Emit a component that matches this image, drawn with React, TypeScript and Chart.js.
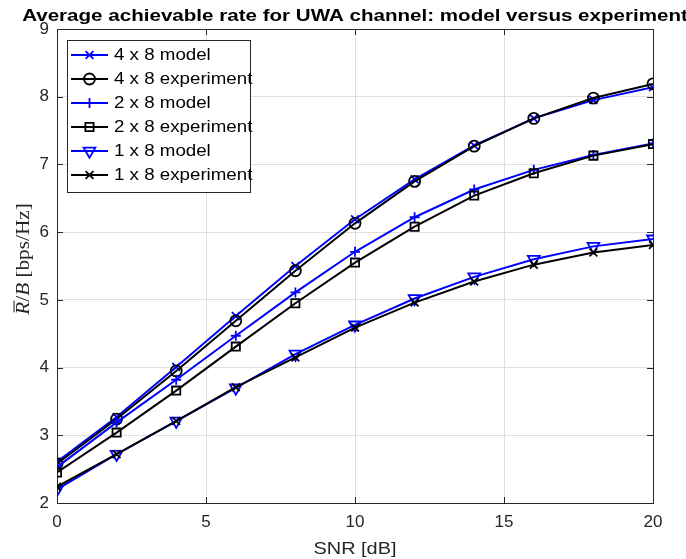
import React, { useEffect, useRef } from "react";
import { Chart, registerables } from "chart.js";

Chart.register(...registerables);

// ---- data ----
const snr = [0, 2, 4, 6, 8, 10, 12, 14, 16, 18, 20];
const model4x8 = [2.61, 3.27, 4.01, 4.76, 5.5, 6.19, 6.78, 7.28, 7.68, 7.95, 8.14];
const exp4x8 = [2.58, 3.24, 3.95, 4.69, 5.43, 6.13, 6.75, 7.27, 7.68, 7.98, 8.19];
const model2x8 = [2.53, 3.19, 3.82, 4.47, 5.11, 5.71, 6.22, 6.63, 6.92, 7.14, 7.31];
const exp2x8 = [2.45, 3.04, 3.66, 4.31, 4.95, 5.55, 6.08, 6.54, 6.87, 7.13, 7.3];
const model1x8 = [2.2, 2.72, 3.21, 3.7, 4.2, 4.63, 5.02, 5.34, 5.6, 5.79, 5.9];
const exp1x8 = [2.24, 2.72, 3.21, 3.71, 4.15, 4.59, 4.96, 5.27, 5.52, 5.7, 5.81];

const seriesLabels = [
  "4 x 8 model",
  "4 x 8 experiment",
  "2 x 8 model",
  "2 x 8 experiment",
  "1 x 8 model",
  "1 x 8 experiment",
];
const xTickValues = [0, 5, 10, 15, 20];
const yTickValues = [2, 3, 4, 5, 6, 7, 8, 9];

const TITLE = "Average achievable rate for UWA channel: model versus experiment";
const X_LABEL = "SNR [dB]";

const BLUE = "#0000ff";
const BLACK = "#000000";
const AXIS = "#262626";

type Marker = { style: string; radius: number; rotation: number };

const seriesValues = [model4x8, exp4x8, model2x8, exp2x8, model1x8, exp1x8];
const seriesColors = [BLUE, BLACK, BLUE, BLACK, BLUE, BLACK];
const seriesMarkers: Marker[] = [
  { style: "crossRot", radius: 5.5, rotation: 0 },
  { style: "circle", radius: 5.5, rotation: 0 },
  { style: "cross", radius: 5, rotation: 0 },
  { style: "rect", radius: 5.8, rotation: 0 },
  { style: "triangle", radius: 6.8, rotation: 180 },
  { style: "crossRot", radius: 5.5, rotation: 0 },
];

function drawMarker(ctx: CanvasRenderingContext2D, m: Marker, x: number, y: number) {
  const r = m.radius;
  ctx.beginPath();
  if (m.style === "circle") {
    ctx.arc(x, y, r, 0, Math.PI * 2);
  } else if (m.style === "rect") {
    const s = Math.SQRT1_2 * r;
    ctx.rect(x - s, y - s, 2 * s, 2 * s);
  } else if (m.style === "triangle") {
    let rad = (m.rotation * Math.PI) / 180;
    ctx.moveTo(x + Math.sin(rad) * r, y - Math.cos(rad) * r);
    rad += (2 * Math.PI) / 3;
    ctx.lineTo(x + Math.sin(rad) * r, y - Math.cos(rad) * r);
    rad += (2 * Math.PI) / 3;
    ctx.lineTo(x + Math.sin(rad) * r, y - Math.cos(rad) * r);
    ctx.closePath();
  } else if (m.style === "cross") {
    ctx.moveTo(x, y - r);
    ctx.lineTo(x, y + r);
    ctx.moveTo(x - r, y);
    ctx.lineTo(x + r, y);
  } else if (m.style === "crossRot") {
    const o = Math.SQRT1_2 * r;
    ctx.moveTo(x - o, y - o);
    ctx.lineTo(x + o, y + o);
    ctx.moveTo(x + o, y - o);
    ctx.lineTo(x - o, y + o);
  }
  ctx.stroke();
}

function stretchedText(
  ctx: CanvasRenderingContext2D,
  text: string,
  x: number,
  y: number,
  font: string,
  sx: number,
  align: CanvasTextAlign,
  baseline: CanvasTextBaseline
) {
  ctx.save();
  ctx.font = font;
  ctx.textAlign = align;
  ctx.textBaseline = baseline;
  ctx.translate(x, y);
  ctx.scale(sx, 1);
  ctx.fillText(text, 0, 0);
  ctx.restore();
}

export default function App() {
  const ref = useRef<HTMLCanvasElement>(null);

  useEffect(() => {
    const canvas = ref.current;
    if (!canvas) return;

    const datasets = seriesLabels.map((label, i) => ({
      label,
      data: snr.map((x, j) => ({ x, y: seriesValues[i][j] })),
      borderColor: seriesColors[i],
      backgroundColor: seriesColors[i],
      borderWidth: 2,
      pointStyle: seriesMarkers[i].style as any,
      pointRadius: seriesMarkers[i].radius,
      pointRotation: seriesMarkers[i].rotation,
      pointBorderWidth: 1.8,
      pointBorderColor: seriesColors[i],
      pointBackgroundColor: "rgba(0,0,0,0)",
      tension: 0,
      fill: false,
      order: seriesLabels.length - 1 - i,
    }));

    const matlabPlugin = {
      id: "matlabDecor",
      beforeDatasetsDraw(chart: any) {
        const ctx: CanvasRenderingContext2D = chart.ctx;
        const { left, right, top, bottom } = chart.chartArea;
        const xs = chart.scales.x;
        const ys = chart.scales.y;
        ctx.save();
        ctx.strokeStyle = AXIS;
        ctx.lineWidth = 1;
        ctx.strokeRect(left + 0.5, top + 0.5, right - left, bottom - top);
        const tl = 6;
        ctx.beginPath();
        xTickValues.forEach((v) => {
          const px = Math.round(xs.getPixelForValue(v)) + 0.5;
          ctx.moveTo(px, bottom);
          ctx.lineTo(px, bottom - tl);
          ctx.moveTo(px, top);
          ctx.lineTo(px, top + tl);
        });
        yTickValues.forEach((v) => {
          const py = Math.round(ys.getPixelForValue(v)) + 0.5;
          ctx.moveTo(left, py);
          ctx.lineTo(left + tl, py);
          ctx.moveTo(right, py);
          ctx.lineTo(right - tl, py);
        });
        ctx.stroke();
        ctx.restore();
      },
      afterDraw(chart: any) {
        const ctx: CanvasRenderingContext2D = chart.ctx;
        const { left, right, top, bottom } = chart.chartArea;
        const cx = (left + right) / 2;
        ctx.save();
        ctx.fillStyle = "#000";
        // title
        stretchedText(ctx, TITLE, cx, 21, "bold 17px 'Liberation Sans', Arial, sans-serif", 1.21, "center", "alphabetic");
        // x label
        ctx.fillStyle = AXIS;
        stretchedText(ctx, X_LABEL, cx, 554, "17px 'Liberation Sans', Arial, sans-serif", 1.17, "center", "alphabetic");

        // y label: \bar{R}/B [bps/Hz]
        ctx.save();
        ctx.translate(29, 259);
        ctx.rotate(-Math.PI / 2);
        const sx = 1.18;
        ctx.scale(sx, 1);
        const italic = "italic 18px 'Liberation Serif', 'Times New Roman', serif";
        const roman = "18px 'Liberation Serif', 'Times New Roman', serif";
        const parts = [
          { t: "R", f: italic },
          { t: "/", f: roman },
          { t: "B", f: italic },
          { t: " [bps/Hz]", f: roman },
        ];
        let total = 0;
        parts.forEach((p) => {
          ctx.font = p.f;
          total += ctx.measureText(p.t).width;
        });
        let px = -total / 2;
        ctx.textBaseline = "alphabetic";
        ctx.textAlign = "left";
        parts.forEach((p, i) => {
          ctx.font = p.f;
          const w = ctx.measureText(p.t).width;
          ctx.fillText(p.t, px, 0);
          if (i === 0) {
            ctx.fillRect(px + 2, -15.5, w - 1, 1.1);
          }
          px += w;
        });
        ctx.restore();

        // legend
        const lx0 = 67.5;
        const ly0 = 40.5;
        const lw = 183;
        const lh = 152;
        ctx.fillStyle = "#fff";
        ctx.fillRect(lx0, ly0, lw, lh);
        ctx.strokeStyle = AXIS;
        ctx.lineWidth = 1;
        ctx.strokeRect(lx0, ly0, lw, lh);
        seriesLabels.forEach((label, i) => {
          const ry = 55 + i * 24;
          ctx.strokeStyle = seriesColors[i];
          ctx.lineWidth = 2;
          ctx.beginPath();
          ctx.moveTo(71, ry);
          ctx.lineTo(108, ry);
          ctx.stroke();
          ctx.lineWidth = 1.8;
          drawMarker(ctx, seriesMarkers[i], 89.5, ry);
          ctx.fillStyle = "#000";
          stretchedText(ctx, label, 114, ry + 1, "16px 'Liberation Sans', Arial, sans-serif", 1.17, "left", "middle");
        });
        ctx.restore();
      },
    };

    const chart = new Chart(canvas, {
      type: "line",
      data: { datasets: datasets as any },
      options: {
        animation: false,
        responsive: false,
        devicePixelRatio: 1,
        layout: { padding: { top: 29, right: 33, left: 0, bottom: 0 } },
        plugins: {
          legend: { display: false },
          title: { display: false },
          tooltip: { enabled: false },
        },
        scales: {
          x: {
            type: "linear",
            min: 0,
            max: 20,
            afterFit: (s: any) => {
              s.height = 56;
            },
            afterBuildTicks: (s: any) => {
              s.ticks = xTickValues.map((v) => ({ value: v }));
            },
            ticks: {
              color: AXIS,
              font: { family: "'Liberation Sans', Arial, sans-serif", size: 17 },
              padding: 9,
              maxRotation: 0,
            },
            grid: { color: "#dfdfdf", lineWidth: 1, drawTicks: false },
            border: { display: false },
          },
          y: {
            type: "linear",
            min: 2,
            max: 9,
            afterFit: (s: any) => {
              s.width = 57;
            },
            afterBuildTicks: (s: any) => {
              s.ticks = yTickValues.map((v) => ({ value: v }));
            },
            ticks: {
              color: AXIS,
              font: { family: "'Liberation Sans', Arial, sans-serif", size: 17 },
              padding: 8,
            },
            grid: { color: "#dfdfdf", lineWidth: 1, drawTicks: false },
            border: { display: false },
          },
        },
      },
      plugins: [matlabPlugin],
    });

    return () => chart.destroy();
  }, []);

  return (
    <div style={{ position: "fixed", left: 0, top: 0, width: 686, height: 559, background: "#fff" }}>
      <canvas ref={ref} width={686} height={559} style={{ width: 686, height: 559, display: "block" }} />
    </div>
  );
}
